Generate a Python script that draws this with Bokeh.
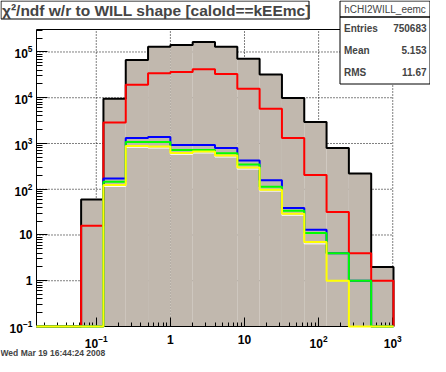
import math
from bokeh.plotting import figure
from bokeh.models import FixedTicker, LogTickFormatter, Label, BoxAnnotation, Range1d, LogAxis
from bokeh.embed import file_html
from bokeh.resources import INLINE

# ---- data ----
edges = [0.015625, 0.03125, 0.0625, 0.125, 0.25, 0.5, 1, 2, 4, 8, 16, 32, 64, 128, 256, 512, 1024]
hist_all = [0, 0, 60, 9500, 67000, 130000, 142000, 166000, 130000, 71500, 32000, 9900, 2960, 800, 220, 2]
hist_red = [0, 0, 16, 2860, 19300, 34100, 36600, 41800, 33100, 15800, 5780, 1320, 206, 32, 4, 1]
hist_blue = [0, 0, 0, 171, 1320, 1390, 930, 930, 800, 423, 157, 39, 13, 4, 1, 0]
hist_green = [0, 0, 0, 145, 1080, 1080, 724, 724, 611, 346, 114, 34, 11, 4, 1, 0]
hist_white = [0, 0, 0, 115, 825, 795, 580, 620, 505, 276, 91, 27, 6.4, 1, 0, 0]
hist_yellow = [0, 0, 0, 124, 885, 855, 622, 665, 543, 297, 98, 29, 7, 1, 0, 0]

x_major = [0.1, 1, 10, 100, 1000]
y_major = [0.1, 1, 10, 100, 1000, 10000, 100000]
title_text = "χ²/ndf w/r to WILL shape [caloId==kEEmc]"
stats_name = "hCHI2WILL_eemc"
stats_keys = ["Entries", "Mean", "RMS"]
stats_vals = ["750683", "5.153", "11.67"]
date_text = "Wed Mar 19 16:44:24 2008"

FILL = "#c1b8ae"
FONT = "Liberation Sans"
YMIN, YMAX = 0.1, 3.1e5
W, H = 430, 356
# frame position in pixels (left, right, top, bottom)
FL, FR, FT, FB = 36, 393, 29, 326

lx0, lx1 = math.log10(edges[0]), math.log10(edges[-1])
ppx = (FR - FL) / (lx1 - lx0)
ly0, ly1 = math.log10(YMIN), math.log10(YMAX)
ppy = (FB - FT) / (ly1 - ly0)
x_rng = Range1d(10 ** (lx0 - FL / ppx), 10 ** (lx1 + (W - FR) / ppx))
y_rng = Range1d(10 ** (ly0 - (H - FB) / ppy), 10 ** (ly1 + FT / ppy))

p = figure(width=W, height=H, x_axis_type="log", y_axis_type="log",
           x_range=x_rng, y_range=y_rng,
           output_backend="svg", toolbar_location=None, min_border=0)
p.outline_line_color = None
p.background_fill_color = "white"
p.border_fill_color = "white"
p.xgrid.visible = False
p.ygrid.visible = False


def minors(lo, hi):
    out = []
    for e in range(-3, 7):
        for m in range(2, 10):
            v = m * 10.0 ** e
            if lo < v < hi:
                out.append(v)
    return out


xa, ya = p.xaxis[0], p.yaxis[0]
xa.ticker = FixedTicker(ticks=x_major, minor_ticks=minors(edges[0], edges[-1]))
ya.ticker = FixedTicker(ticks=y_major, minor_ticks=minors(YMIN, YMAX))
xa.fixed_location = YMIN
xa.bounds = (edges[0], edges[-1])
ya.fixed_location = edges[0]
ya.bounds = (YMIN, YMAX)
for ax in (xa, ya):
    ax.formatter = LogTickFormatter()
    ax.major_label_overrides = {1: "1", 10: "10"}
    ax.major_tick_out = 0
    ax.minor_tick_out = 0
    ax.axis_line_color = "black"
    ax.major_tick_line_color = "black"
    ax.minor_tick_line_color = "black"
    ax.major_label_text_font = FONT
    ax.major_label_text_font_style = "bold"
    ax.major_label_text_font_size = "12px"
    ax.major_label_text_color = "black"
xa.major_tick_in = 9
xa.minor_tick_in = 4
xa.major_label_standoff = 8
ya.major_tick_in = 11
ya.minor_tick_in = 6
ya.major_label_standoff = 4

top_axis = LogAxis(ticker=FixedTicker(ticks=[]), axis_line_color="black",
                   fixed_location=YMAX, bounds=(edges[0], edges[-1]),
                   major_tick_line_color=None, minor_tick_line_color=None)
p.add_layout(top_axis, "above")

# dotted grid at the major ticks, inside the frame only
p.segment(x0=x_major, y0=[YMIN] * len(x_major), x1=x_major, y1=[YMAX] * len(x_major),
          line_color="black", line_dash="1 2", line_width=1, level="underlay")
p.segment(x0=[edges[0]] * len(y_major), y0=y_major, x1=[edges[-1]] * len(y_major), y1=y_major,
          line_color="black", line_dash="1 2", line_width=1, level="underlay")

# filled total histogram
nz = [i for i, v in enumerate(hist_all) if v > 0]
p.quad(left=[edges[i] for i in nz], right=[edges[i + 1] for i in nz],
       bottom=[YMIN] * len(nz), top=[hist_all[i] for i in nz],
       fill_color=FILL, line_color=None)


def steps(vals):
    xs, ys = [edges[0]], [YMIN]
    for i, v in enumerate(vals):
        y = v if v > 0 else YMIN
        xs += [edges[i], edges[i + 1]]
        ys += [y, y]
    xs.append(edges[-1])
    ys.append(YMIN)
    return xs, ys


for vals, col, lw in ((hist_all, "black", 2), (hist_red, "red", 2), (hist_blue, "blue", 2),
                      (hist_green, "#00ff00", 2), (hist_white, "white", 1), (hist_yellow, "yellow", 2)):
    xs, ys = steps(vals)
    p.line(xs, ys, line_color=col, line_width=lw, level="annotation")


def box(l, r, t, b):
    return BoxAnnotation(left=l, right=r, top=t, bottom=b,
                         left_units="canvas", right_units="canvas",
                         top_units="canvas", bottom_units="canvas",
                         fill_color="white", fill_alpha=1.0, line_color="black",
                         line_alpha=1.0, line_width=1, level="overlay")


# title box
p.add_layout(box(0.5, 308.5, 0.5, 18.5))
p.add_layout(Label(x=1.5, y=9.5, x_units="canvas", y_units="canvas", text=title_text,
                   text_font=FONT, text_font_style="bold", text_font_size="15.5px",
                   text_baseline="middle", text_align="left", level="overlay"))

# stats box
p.add_layout(box(339.5, 429.5, 0.5, 83.5))
p.add_layout(box(339.5, 429.5, 16.5, 16.5))
p.add_layout(Label(x=384.5, y=8.5, x_units="canvas", y_units="canvas", text=stats_name,
                   text_font=FONT, text_font_size="10px", text_baseline="middle",
                   text_align="center", level="overlay"))
for k, (key, val) in enumerate(zip(stats_keys, stats_vals)):
    yy = 27.5 + k * 22.2
    p.add_layout(Label(x=343.5, y=yy, x_units="canvas", y_units="canvas", text=key,
                       text_font=FONT, text_font_style="bold", text_font_size="10px",
                       text_baseline="middle", text_align="left", level="overlay"))
    p.add_layout(Label(x=426, y=yy, x_units="canvas", y_units="canvas", text=val,
                       text_font=FONT, text_font_style="bold", text_font_size="10px",
                       text_baseline="middle", text_align="right", level="overlay"))

p.add_layout(Label(x=0, y=352, x_units="canvas", y_units="canvas", text=date_text,
                   text_font=FONT, text_font_style="bold", text_font_size="8.5px",
                   text_baseline="middle", text_align="left", level="overlay"))

open("out.html", "w").write(file_html(p, INLINE))
